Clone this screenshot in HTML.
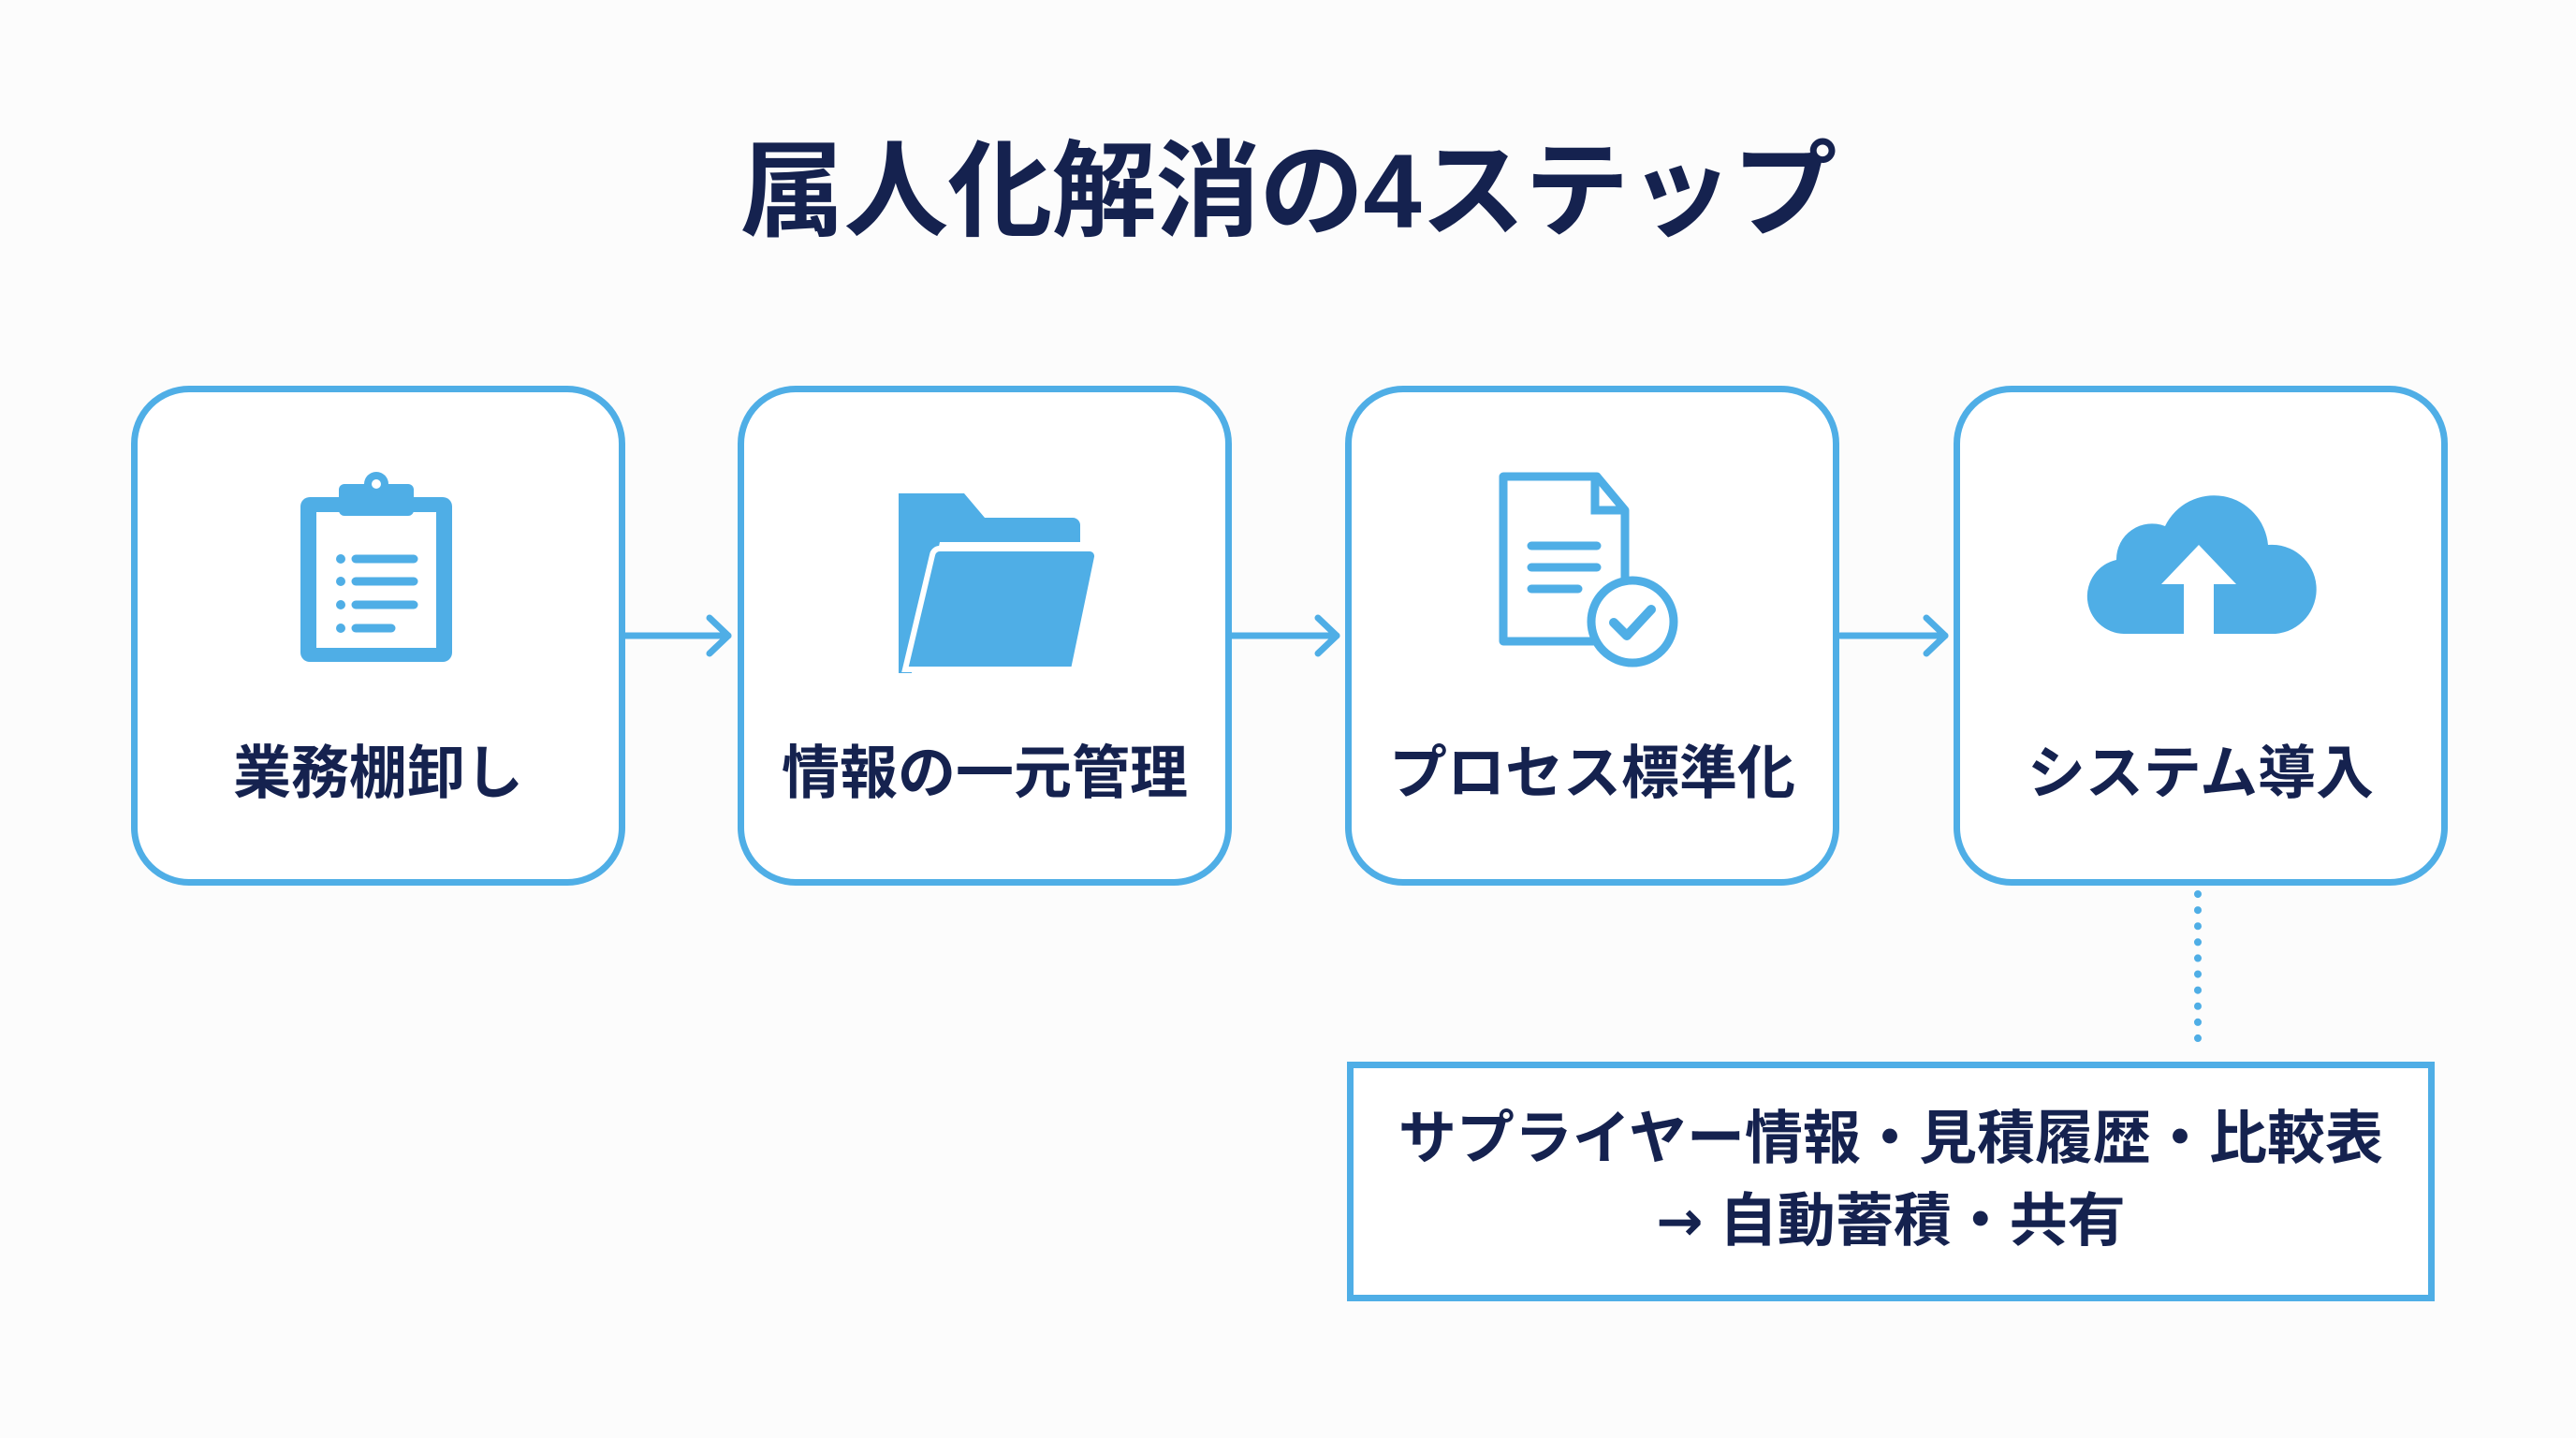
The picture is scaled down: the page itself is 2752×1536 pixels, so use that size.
<!DOCTYPE html>
<html><head><meta charset="utf-8"><style>
html,body{margin:0;padding:0;}
body{width:2752px;height:1536px;background:#fcfcfc;position:relative;overflow:hidden;font-family:"Liberation Sans","Noto Sans CJK JP",sans-serif;color:#15224f;}
.t{position:absolute;left:0;width:2752px;top:125px;text-align:center;font-size:112px;font-weight:bold;line-height:160px;letter-spacing:-1px;}
.box{position:absolute;top:412px;width:514px;height:520px;border:7px solid #4faee6;border-radius:62px;background:#fff;}
.lbl{position:absolute;left:0;right:0;top:368px;text-align:center;font-size:62px;font-weight:bold;line-height:80px;}
.ic{position:absolute;left:155px;top:88px;width:200px;height:200px;overflow:visible;}
.bot{position:absolute;left:1439px;top:1134px;width:1148px;border:7px solid #4faee6;background:#fff;text-align:center;font-size:62px;font-weight:bold;line-height:88px;padding-top:32px;height:210px;}
.ar{font-family:"DejaVu Sans",sans-serif;font-size:60px;}
</style></head><body>
<div class="t">属人化解消の4ステップ</div>

<div class="box" style="left:140px">
<svg class="ic" viewBox="0 0 200 200"><rect x="19" y="24" width="162" height="176" rx="10" fill="#4faee6"/><rect x="36" y="40" width="128" height="145" fill="#fff"/><rect x="60" y="10" width="80" height="34" rx="6" fill="#4faee6"/><circle cx="100" cy="10" r="13" fill="#4faee6"/><circle cx="100" cy="10" r="5" fill="#fff"/>
<g fill="#4faee6"><circle cx="62" cy="90" r="5"/><circle cx="62" cy="114" r="5"/><circle cx="62" cy="139" r="5"/><circle cx="62" cy="164" r="5"/></g>
<g stroke="#4faee6" stroke-width="9" stroke-linecap="round"><line x1="78" y1="90" x2="140" y2="90"/><line x1="78" y1="114" x2="140" y2="114"/><line x1="78" y1="139" x2="140" y2="139"/><line x1="78" y1="164" x2="116" y2="164"/></g></svg>
<div class="lbl">業務棚卸し</div></div>

<div class="box" style="left:788px">
<svg class="ic" viewBox="0 0 200 200" style="left:135px;width:240px"><path d="M10 20 h70 l22 26 h94 a8 8 0 0 1 8 8 v18 h-150 l-30 140 h-14z" fill="#4faee6"/><path d="M46 86 a8 8 0 0 1 8 -7 h160 a8 8 0 0 1 8 9 l-25 120 h-180z" fill="#4faee6" stroke="#fff" stroke-width="6"/></svg>
<div class="lbl">情報の一元管理</div></div>

<div class="box" style="left:1437px">
<svg class="ic" viewBox="0 0 200 200" style="left:150px;width:200px;height:200px;top:80px"><path d="M12 10 h100 l30 36 v140 h-130z" fill="#fff" stroke="#4faee6" stroke-width="9" stroke-linejoin="round"/><path d="M110 10 v36 h32" fill="none" stroke="#4faee6" stroke-width="9"/>
<g stroke="#4faee6" stroke-width="9" stroke-linecap="round"><line x1="42" y1="84" x2="112" y2="84"/><line x1="42" y1="107" x2="112" y2="107"/><line x1="42" y1="130" x2="92" y2="130"/></g>
<circle cx="150" cy="165" r="44" fill="#fff" stroke="#4faee6" stroke-width="9"/><path d="M130 166 l14 14 l26 -28" fill="none" stroke="#4faee6" stroke-width="10" stroke-linecap="round" stroke-linejoin="round"/></svg>
<div class="lbl">プロセス標準化</div></div>

<div class="box" style="left:2087px">
<svg class="ic" viewBox="0 0 260 200" style="left:125px;width:260px"><path d="M50 170 a40 40 0 0 1 -8 -79 a38 38 0 0 1 52 -36 a58 58 0 0 1 110 20 a42 42 0 0 1 8 95z" fill="#4faee6"/><path d="M114 172 v-55 h-24 l40 -42 l40 42 h-24 v55z" fill="#fff"/></svg>
<div class="lbl">システム導入</div></div>

<svg style="position:absolute;left:0;top:0" width="2752" height="1536">
<g stroke="#4faee6" stroke-width="7" fill="none" stroke-linecap="round" stroke-linejoin="round">
<line x1="666" y1="679" x2="778" y2="679"/><polyline points="758,660 778,679 758,698"/>
<line x1="1316" y1="679" x2="1428" y2="679"/><polyline points="1408,660 1428,679 1408,698"/>
<line x1="1966" y1="679" x2="2078" y2="679"/><polyline points="2058,660 2078,679 2058,698"/>
</g>
<line x1="2348" y1="955" x2="2348" y2="1125" stroke="#4faee6" stroke-width="8" stroke-linecap="round" stroke-dasharray="0.1 17"/>
</svg>

<div class="bot">サプライヤー情報・見積履歴・比較表<br><span class="ar">→</span> 自動蓄積・共有</div>
</body></html>
